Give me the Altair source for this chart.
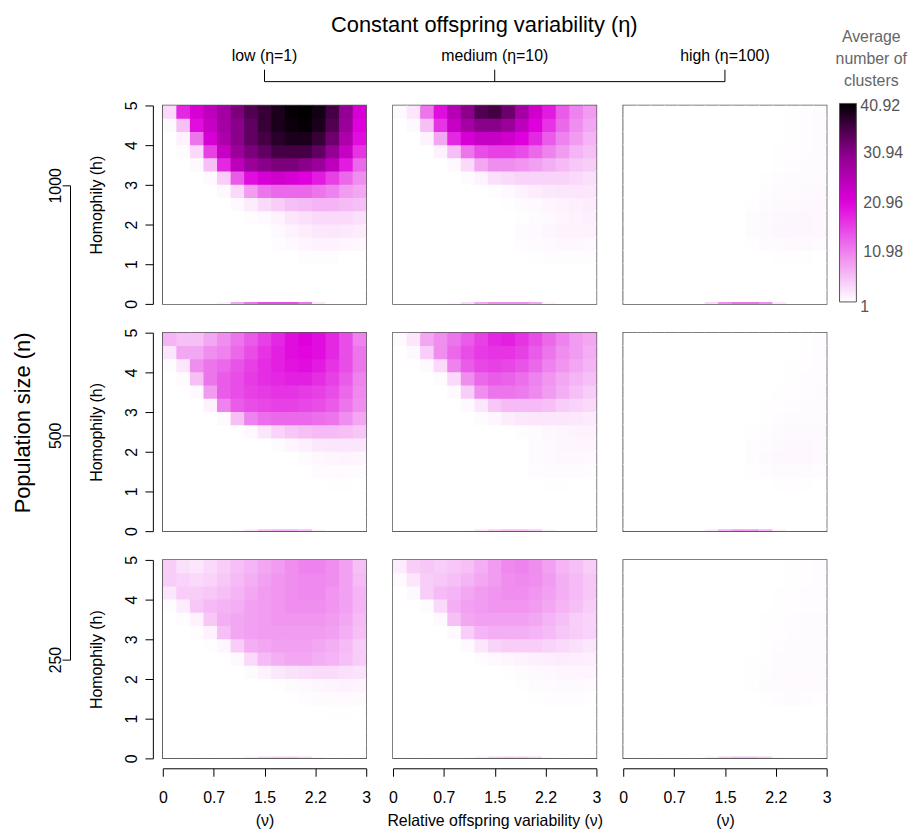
import altair as alt
import pandas as pd

# ---------------- data ----------------
N_LEVELS = ["1000", "500", "250"]                       # rows (population size)
ETA_LABELS = ["low (η=1)", "medium (η=10)", "high (η=100)"]  # columns
MAIN_TITLE = "Constant offspring variability (η)"
ROW_TITLE = "Population size (n)"
Y_TITLE = "Homophily (h)"
X_TITLES = ["(ν)", "Relative offspring variability (ν)", "(ν)"]
LEGEND_TITLE = ["Average", "number of", "clusters"]

X_TICKS = [0, 0.75, 1.5, 2.25, 3]
X_TICK_LABELS = ["0", "0.7", "1.5", "2.2", "3"]
Y_TICKS = [0, 1, 2, 3, 4, 5]

COLOR_STOPS = [1, 10.98, 20.96, 30.94, 40.92]
COLOR_RANGE = ["#ffffff", "#ee82ee", "#e000dd", "#8b008b", "#000000"]

# cell edges: v in steps of 0.2, h: thin strip at h=0 then 15 rows of 1/3
V_EDGES = [round(0.2 * i, 1) for i in range(16)]
H_EDGES = [0.0, 0.05] + [i / 3 for i in range(1, 16)]

# average number of clusters; each block: rows from h=5 (top) down to h=0
G_1000_LOW = """
4 18 22 25 28 32 35 37 39 40.5 40.9 39.5 36 30 22
1.5 6 20 24 28 31 34 37 39 40 40.5 39 35 29 21
1 2 12 22 27 31 34 36 38 39 39 37 33 27 20
1 1.2 4 16 24 29 32 34 36 36 36 34 30 24 17
1 1 1.5 6 18 25 29 31 32 32 31 29 25 19 13
1 1 1 1.5 5 14 20 22 23 22 21 19 16 13 10
1 1 1 1 1.5 4 9 12 13 13 13 12 11 9 8
1 1 1 1 1 1.5 2.5 4 5 6 6.5 7 7 6.5 6
1 1 1 1 1 1 1.2 1.5 2 3 3.5 4 4 4 3.5
1 1 1 1 1 1 1 1 1.5 2 2.5 2.8 3 2.8 2.5
1 1 1 1 1 1 1 1 1.2 1.5 1.8 2 2 1.8 1.6
1 1 1 1 1 1 1 1 1 1 1.2 1.2 1.2 1 1
1 1 1 1 1 1 1 1 1 1 1 1 1 1 1
1 1 1 1 1 1 1 1 1 1 1 1 1 1 1
1 1 1 1 1 1 1 1 1 1 1 1 1 1 1
"""
G_1000_MED = """
1.5 3 12 20 26 31 35 36 33 28 23 19 14 11 9
1 1.5 6 17 24 28 31 31 29 25 21 17 13 10 8
1 1 2 8 18 22 24 24 23 21 18 14 11 9 7
1 1 1 2 6 12 15 16 16 15 13 11 9 7 6
1 1 1 1 1.5 4 8 10 10 9.5 8.5 7.5 6.5 5.5 5
1 1 1 1 1 1.3 2 3.5 4 4.5 4.5 4.5 4.5 4 3.5
1 1 1 1 1 1 1 1.2 1.5 2 2.5 2.8 3 3 3
1 1 1 1 1 1 1 1 1.1 1.3 1.5 1.8 2 2.3 2.5
1 1 1 1 1 1 1 1 1 1.1 1.3 1.5 1.8 2 2.2
1 1 1 1 1 1 1 1 1 1.3 1.5 1.8 2 2 2
1 1 1 1 1 1 1 1 1 1.2 1.4 1.5 1.6 1.6 1.5
1 1 1 1 1 1 1 1 1 1 1.1 1.2 1.2 1.2 1.2
1 1 1 1 1 1 1 1 1 1 1 1 1 1 1
1 1 1 1 1 1 1 1 1 1 1 1 1 1 1
1 1 1 1 1 1 1 1 1 1 1 1 1 1 1
"""
G_1000_HIGH = """
1 1 1 1 1 1 1 1 1 1 1 1 1.1 1.2 1.3
1 1 1 1 1 1 1 1 1 1 1 1 1.1 1.2 1.3
1 1 1 1 1 1 1 1 1 1 1 1 1.1 1.2 1.3
1 1 1 1 1 1 1 1 1 1 1 1.1 1.15 1.25 1.3
1 1 1 1 1 1 1 1 1 1 1 1.1 1.2 1.3 1.35
1 1 1 1 1 1 1 1 1 1 1.1 1.2 1.3 1.35 1.4
1 1 1 1 1 1 1 1 1 1 1.2 1.3 1.4 1.45 1.45
1 1 1 1 1 1 1 1 1 1.15 1.3 1.45 1.5 1.55 1.55
1 1 1 1 1 1 1 1 1 1.3 1.45 1.6 1.7 1.7 1.6
1 1 1 1 1 1 1 1 1 1.3 1.5 1.7 1.7 1.7 1.6
1 1 1 1 1 1 1 1 1 1.15 1.3 1.4 1.45 1.45 1.3
1 1 1 1 1 1 1 1 1 1 1 1.15 1.15 1.1 1
1 1 1 1 1 1 1 1 1 1 1 1 1 1 1
1 1 1 1 1 1 1 1 1 1 1 1 1 1 1
1 1 1 1 1 1 1 1 1 1 1 1 1 1 1
"""
G_500_LOW = """
7 6 6 8 10 12 14 16 18 20 21 20 18 15 11
3 8 8 10 11 13 15 17 18.5 20 20.5 20 18 15 12
1.2 3 10 12 13 14.5 16 17.5 18.5 19.5 20 19 17 15 12
1 1.3 6 12 14 15 16.5 17.5 18 18.5 18.5 17.5 16 14 11
1 1 1.5 9 14 15 16 16.5 17 17 16.5 16 15 13 10.5
1 1 1 2 11 14 15 15.5 16 16 15.5 15 14 12 10
1 1 1 1 1.5 6 11 12.5 13 13 13 12.5 12 10 8
1 1 1 1 1 1 1.5 3 4.5 5.5 6 6.5 6.5 6 5.5
1 1 1 1 1 1 1 1 1.3 1.8 2.3 2.8 3 3 3
1 1 1 1 1 1 1 1 1 1 1.3 1.6 1.8 1.9 1.8
1 1 1 1 1 1 1 1 1 1 1 1.3 1.4 1.4 1.3
1 1 1 1 1 1 1 1 1 1 1 1 1.1 1.1 1
1 1 1 1 1 1 1 1 1 1 1 1 1 1 1
1 1 1 1 1 1 1 1 1 1 1 1 1 1 1
1 1 1 1 1 1 1 1 1 1 1 1 1 1 1
"""
G_500_MED = """
1.5 3 8 10 12 14 16 18 18.5 17 15 13 11 9 8
1 1.5 5 10 13 15 16.5 17 17 16 14 12 10 9 7.5
1 1 1.5 4 11 14 15.5 16 15.5 14.5 13 11 9.5 8 7
1 1 1 1.3 4 10 13 14 13.5 12.5 11 9.5 8 7 6
1 1 1 1 1.5 5 10 12 12 11.5 10.5 9 7.5 6 5
1 1 1 1 1 1.5 3 5.5 6.5 6.5 6.5 6 5 4.5 4
1 1 1 1 1 1 1.3 1.8 2.5 2.8 3 3 3 2.8 2.6
1 1 1 1 1 1 1 1 1 1.2 1.4 1.6 1.8 2 2
1 1 1 1 1 1 1 1 1 1 1.3 1.5 1.7 1.8 1.8
1 1 1 1 1 1 1 1 1 1 1.3 1.5 1.6 1.6 1.5
1 1 1 1 1 1 1 1 1 1 1.2 1.3 1.3 1.3 1.2
1 1 1 1 1 1 1 1 1 1 1 1.1 1.1 1 1
1 1 1 1 1 1 1 1 1 1 1 1 1 1 1
1 1 1 1 1 1 1 1 1 1 1 1 1 1 1
1 1 1 1 1 1 1 1 1 1 1 1 1 1 1
"""
G_500_HIGH = """
1 1 1 1 1 1 1 1 1 1 1 1 1 1.1 1.2
1 1 1 1 1 1 1 1 1 1 1 1 1 1.1 1.2
1 1 1 1 1 1 1 1 1 1 1 1 1.1 1.15 1.25
1 1 1 1 1 1 1 1 1 1 1 1 1.1 1.2 1.25
1 1 1 1 1 1 1 1 1 1 1 1.1 1.15 1.25 1.3
1 1 1 1 1 1 1 1 1 1 1.1 1.15 1.25 1.3 1.3
1 1 1 1 1 1 1 1 1 1 1.15 1.25 1.3 1.35 1.35
1 1 1 1 1 1 1 1 1 1.1 1.25 1.35 1.45 1.45 1.45
1 1 1 1 1 1 1 1 1 1.2 1.35 1.5 1.55 1.55 1.5
1 1 1 1 1 1 1 1 1 1.2 1.45 1.55 1.55 1.55 1.45
1 1 1 1 1 1 1 1 1 1.1 1.25 1.35 1.35 1.35 1.25
1 1 1 1 1 1 1 1 1 1 1 1.15 1.15 1.05 1
1 1 1 1 1 1 1 1 1 1 1 1 1 1 1
1 1 1 1 1 1 1 1 1 1 1 1 1 1 1
1 1 1 1 1 1 1 1 1 1 1 1 1 1 1
"""
G_250_LOW = """
5 3.5 3 4 5 6 7 8 9 10 11 11 10 8.5 6
5 4.5 4 4.5 5.5 6.5 7.5 8.5 9.5 10 10.5 10.5 10 8.5 6.5
3 5 5 5.5 6 7 8 9 9.5 10 10.5 10.5 9.5 8.5 7
1.2 2.5 5.5 6.5 7 7.5 8.5 9 9.5 10 10 10 9.5 8.5 7
1 1.2 2 5.5 7.5 8 8.5 9 9.5 9.5 9.5 9.5 9 8 6.5
1 1 1.2 2 6 8 8.5 9 9 9 9 9 8.5 7.5 6
1 1 1 1.1 1.8 5 7.5 8 8.5 8.5 8.5 8 7.5 6.5 5
1 1 1 1 1 1.5 4 6.5 7.5 8 8 7.5 7 6 5
1 1 1 1 1 1 1.3 2 2.8 3.3 3.6 3.8 3.8 3.5 3.2
1 1 1 1 1 1 1 1 1.1 1.3 1.5 1.7 1.9 2 1.9
1 1 1 1 1 1 1 1 1 1 1.2 1.3 1.4 1.4 1.3
1 1 1 1 1 1 1 1 1 1 1 1 1.1 1.1 1
1 1 1 1 1 1 1 1 1 1 1 1 1 1 1
1 1 1 1 1 1 1 1 1 1 1 1 1 1 1
1 1 1 1 1 1 1 1 1 1 1 1 1 1 1
"""
G_250_MED = """
2.5 5 5.5 5 5.5 6 7.5 9 10.5 11 10 8.5 7 6 5
1.5 3 5 5.5 6 7 8 9 10 10.5 10 9 7.5 6.5 5.5
1 1.5 5 6.5 7 8 9 9.5 10 10 9.5 8.5 7.5 6.5 5.5
1 1 1.3 4 7.5 8.5 9 9.5 9.5 9.5 9 8 7 6 5
1 1 1 1.5 6 8 8.5 8.5 8.5 8.5 8 7 6 5 4.5
1 1 1 1 1.5 5 7 7.5 7.5 7.5 7 6.5 5.5 5 4.5
1 1 1 1 1 1.5 3 4.5 5 5 5 4.5 4 3.5 3
1 1 1 1 1 1 1.2 1.5 1.8 2 2.2 2.4 2.5 2.4 2.3
1 1 1 1 1 1 1 1 1.1 1.3 1.5 1.6 1.7 1.8 1.8
1 1 1 1 1 1 1 1 1 1.1 1.3 1.4 1.5 1.5 1.4
1 1 1 1 1 1 1 1 1 1 1.1 1.2 1.2 1.2 1.1
1 1 1 1 1 1 1 1 1 1 1 1 1 1 1
1 1 1 1 1 1 1 1 1 1 1 1 1 1 1
1 1 1 1 1 1 1 1 1 1 1 1 1 1 1
1 1 1 1 1 1 1 1 1 1 1 1 1 1 1
"""
G_250_HIGH = """
1 1 1 1 1 1 1 1 1 1 1 1 1.1 1.15 1.2
1 1 1 1 1 1 1 1 1 1 1 1 1.1 1.15 1.25
1 1 1 1 1 1 1 1 1 1 1 1.1 1.15 1.2 1.25
1 1 1 1 1 1 1 1 1 1 1 1.1 1.15 1.2 1.25
1 1 1 1 1 1 1 1 1 1 1.1 1.15 1.2 1.3 1.3
1 1 1 1 1 1 1 1 1 1 1.1 1.15 1.2 1.3 1.3
1 1 1 1 1 1 1 1 1 1 1.15 1.2 1.3 1.3 1.3
1 1 1 1 1 1 1 1 1 1.1 1.15 1.3 1.35 1.35 1.35
1 1 1 1 1 1 1 1 1 1.1 1.25 1.35 1.4 1.4 1.35
1 1 1 1 1 1 1 1 1 1.1 1.3 1.35 1.4 1.4 1.3
1 1 1 1 1 1 1 1 1 1 1.15 1.25 1.3 1.25 1.15
1 1 1 1 1 1 1 1 1 1 1 1 1 1 1
1 1 1 1 1 1 1 1 1 1 1 1 1 1 1
1 1 1 1 1 1 1 1 1 1 1 1 1 1 1
1 1 1 1 1 1 1 1 1 1 1 1 1 1 1
"""
GRIDS = [[G_1000_LOW, G_1000_MED, G_1000_HIGH],
         [G_500_LOW, G_500_MED, G_500_HIGH],
         [G_250_LOW, G_250_MED, G_250_HIGH]]

# values in the thin strip at h = 0
EDGES = [[[1, 1, 1, 1, 2, 8, 12, 15, 15, 15, 12, 3, 1, 1, 1],
          [1, 1, 1, 1, 1.5, 4, 8, 10, 10, 10, 8, 2, 1, 1, 1],
          [1, 1, 1, 1, 1, 1, 4, 10, 12, 12, 10, 3, 1, 1, 1]],
         [[1, 1, 1, 1, 1, 1.5, 3, 6, 7, 7, 6, 2, 1, 1, 1],
          [1, 1, 1, 1, 1, 1.3, 3, 5, 6, 6, 5, 2, 1, 1, 1],
          [1, 1, 1, 1, 1, 1, 3, 7, 9, 9, 7, 2, 1, 1, 1]],
         [[1, 1, 1, 1, 1, 1.2, 2.5, 4.5, 5, 5, 4, 1.5, 1, 1, 1],
          [1, 1, 1, 1, 1, 1.2, 2.5, 4.5, 5, 5, 4, 1.5, 1, 1, 1],
          [1, 1, 1, 1, 1, 1, 2.5, 5, 6, 6, 5, 1.5, 1, 1, 1]]]

# tiny overlap (about one pixel) so neighbouring cells show no hairline seams
V_PAD, H_PAD = 0.015, 0.025


def panel_frame(r, c):
    rows = [[float(t) for t in line.split()] for line in GRIDS[r][c].strip().splitlines()]
    rows = rows[::-1]  # bottom row first
    recs = []
    for j, val in enumerate(EDGES[r][c]):
        recs.append(dict(v0=V_EDGES[j], v1=V_EDGES[j + 1] + V_PAD, h0=H_EDGES[0],
                         h1=H_EDGES[1] + H_PAD, value=val))
    for i, row in enumerate(rows):
        for j, val in enumerate(row):
            recs.append(dict(v0=V_EDGES[j], v1=V_EDGES[j + 1] + V_PAD, h0=H_EDGES[i + 1],
                             h1=H_EDGES[i + 2] + H_PAD, value=val))
    return pd.DataFrame(recs)


# ---------------- styling ----------------
FONT = "Liberation Sans"
PW, PH = 205, 200
LEG_X, LEG_LABEL_X = 678, 703
LEG_COLOR = "#555555"

color_scale = alt.Scale(domain=COLOR_STOPS, range=COLOR_RANGE, interpolate="rgb", clamp=True)

end_test = " || ".join(f"datum.value == {v}" for v in (COLOR_STOPS[0], COLOR_STOPS[-1]))
legend = alt.Legend(
    type="gradient", title=LEGEND_TITLE, orient="none", legendX=LEG_X, legendY=-77,
    direction="vertical", gradientLength=PH, gradientThickness=17, values=COLOR_STOPS,
    format=".4~r", labelExpr=f"({end_test}) ? '' : datum.label",
    labelFontSize=16, labelColor=LEG_COLOR, labelBaseline="middle",
    labelOffset=7, labelOverlap=False,
    titleFontSize=16, titleColor="#666666", titleFontWeight="normal", titleAlign="center",
    titleAnchor="middle", titleLineHeight=22, titlePadding=15,
    gradientStrokeColor=LEG_COLOR, gradientStrokeWidth=1)

label_expr = " : ".join(
    f"datum.value == {v} ? '{t}'" for v, t in zip(X_TICKS, X_TICK_LABELS)) + " : ''"


def x_axis(title):
    return alt.Axis(title=title, values=X_TICKS, labelExpr=label_expr, offset=10, tickSize=8,
                    labelPadding=13, labelFontSize=16, titleFontSize=16, titleFontWeight="normal",
                    titlePadding=8, domainColor="black", tickColor="black", labelColor="black",
                    titleColor="black", grid=False, labelFlush=False, labelOverlap=False)


y_axis = alt.Axis(title=Y_TITLE, values=Y_TICKS, offset=10, tickSize=8, labelAngle=270,
                  labelAlign="center", labelBaseline="bottom", labelPadding=5, labelFontSize=16,
                  titleFontSize=16, titleFontWeight="normal", titlePadding=20,
                  domainColor="black", tickColor="black", labelColor="black", titleColor="black",
                  grid=False, labelFlush=False, labelOverlap=False)


def text_layer(label, x, y, size, angle=0, align="center", color="black"):
    return alt.Chart(pd.DataFrame({"t": [label]})).mark_text(
        fontSize=size, angle=angle, color=color, align=align, baseline="middle"
    ).encode(text="t:N", x=alt.value(x), y=alt.value(y))


def rule_layer(x, x2, y, y2):
    return alt.Chart(pd.DataFrame({"k": [0]})).mark_rule(color="black", strokeWidth=1).encode(
        x=alt.value(x), x2=alt.value(x2), y=alt.value(y), y2=alt.value(y2))


def heat(r, c):
    xa = x_axis(X_TITLES[c]) if r == 2 else None
    ya = y_axis if c == 0 else None
    return alt.Chart(panel_frame(r, c)).mark_rect(clip=True).encode(
        x=alt.X("v0:Q", scale=alt.Scale(domain=[0, 3], nice=False, zero=False), axis=xa),
        x2="v1:Q",
        y=alt.Y("h0:Q", scale=alt.Scale(domain=[0, 5], nice=False, zero=False), axis=ya),
        y2="h1:Q",
        color=alt.Color("value:Q", scale=color_scale, legend=legend),
    )


def fmt(v):
    return f"{v:.4g}"


panels = []
for r in range(3):
    for c in range(3):
        layers = [heat(r, c)]
        if r == 0 and c == 0:
            step = PW + 27
            cx = [PW / 2 + k * step for k in range(3)]
            # white 1px anchor fixing the top-left corner of the drawing
            anchor = alt.Chart(pd.DataFrame({"k": [0]})).mark_rect(color="#ffffff").encode(
                x=alt.value(-155), x2=alt.value(-154), y=alt.value(-94), y2=alt.value(-93))
            layers.append(anchor)
            layers.append(text_layer(MAIN_TITLE, 324, -81, 22))
            for k in range(3):
                layers.append(text_layer(ETA_LABELS[k], cx[k], -50, 16))
                layers.append(rule_layer(cx[k], cx[k], -36, -24))
            layers.append(rule_layer(cx[0], cx[2], -24, -24))
            ny = [81, 333, 559]
            layers.append(rule_layer(-93, -93, ny[0], ny[2]))
            for k in range(3):
                layers.append(rule_layer(-101, -93, ny[k], ny[k]))
                layers.append(text_layer(N_LEVELS[k], -108, ny[k], 16, angle=270))
            layers.append(text_layer(ROW_TITLE, -141, 320, 22, angle=270))
            # end labels of the colour bar, centred on the bar's ends
            layers.append(text_layer(fmt(COLOR_STOPS[-1]), LEG_LABEL_X, 1, 16, align="left",
                                     color=LEG_COLOR))
            layers.append(text_layer(fmt(COLOR_STOPS[0]), LEG_LABEL_X, PH + 3, 16, align="left",
                                     color=LEG_COLOR))
        panels.append(alt.layer(*layers).properties(width=PW, height=PH))

chart = alt.concat(*panels, columns=3, spacing={"row": 29, "column": 27}, bounds="flush").properties(
    padding=0
).configure(font=FONT).configure_view(stroke="#555555", strokeWidth=1.5)

chart.save("out.html", embed_options={"renderer": "svg", "actions": False})
